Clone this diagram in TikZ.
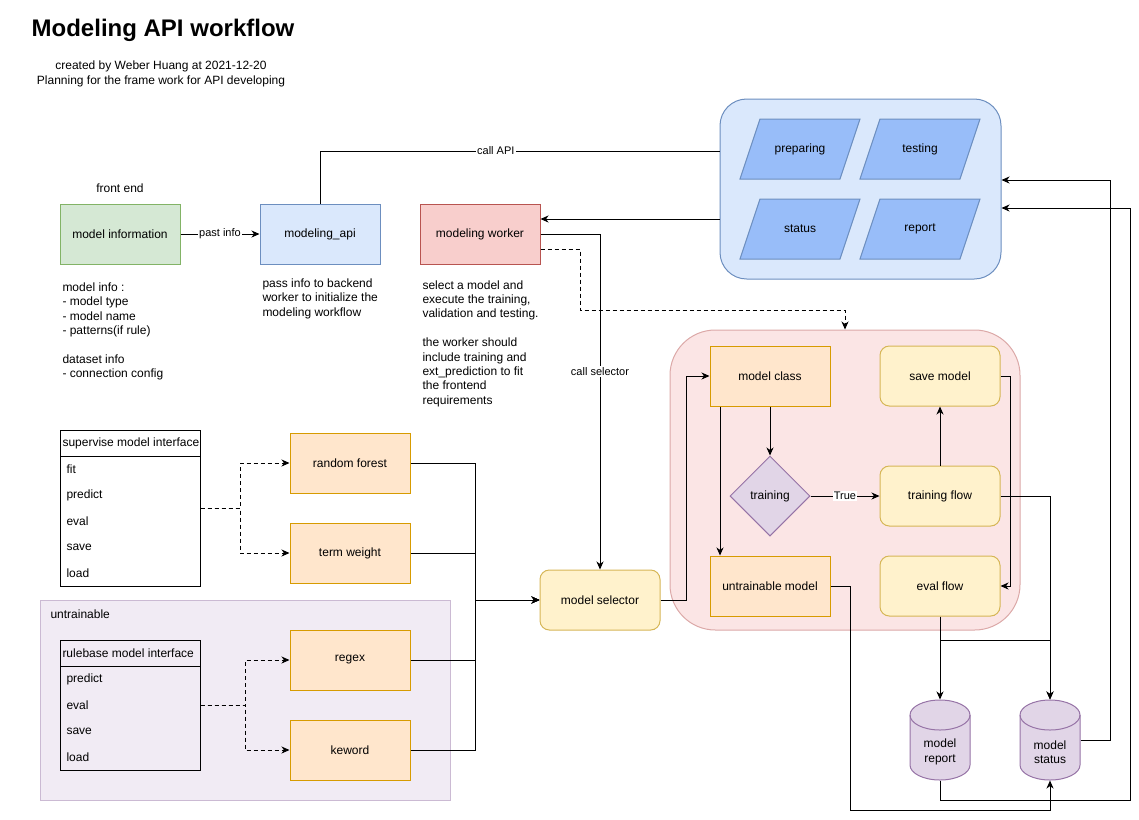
\documentclass[tikz,border=0pt]{standalone}
\usepackage{fontspec}
\setmainfont{Liberation Sans}
\usetikzlibrary{arrows.meta,shapes.geometric}
\definecolor{gfill}{HTML}{D5E8D4}\definecolor{gstroke}{HTML}{82B366}
\definecolor{bfill}{HTML}{DAE8FC}\definecolor{bstroke}{HTML}{6C8EBF}
\definecolor{rfill}{HTML}{F8CECC}\definecolor{rstroke}{HTML}{B85450}
\definecolor{ofill}{HTML}{FFE6CC}\definecolor{ostroke}{HTML}{D79B00}
\definecolor{yfill}{HTML}{FFF2CC}\definecolor{ystroke}{HTML}{D6B656}
\definecolor{pfill}{HTML}{E1D5E7}\definecolor{pstroke}{HTML}{9673A6}
\definecolor{parafill}{HTML}{98BDF9}
\definecolor{pinkfill}{HTML}{FBE5E5}\definecolor{pinkstroke}{HTML}{DCA9A8}
\definecolor{grpfill}{HTML}{F1EBF4}\definecolor{grpstroke}{HTML}{CBBAD3}
\begin{document}
\begin{tikzpicture}[x=0.75pt,y=-0.75pt,line width=0.75pt,
  every node/.style={font=\fontsize{9}{10.8}\selectfont},
  box/.style={draw, minimum width=90pt, minimum height=45pt, inner sep=0pt, align=center},
  greenbox/.style={box, fill=gfill, draw=gstroke},
  bluebox/.style={box, fill=bfill, draw=bstroke},
  redbox/.style={box, fill=rfill, draw=rstroke},
  orangebox/.style={box, fill=ofill, draw=ostroke},
  yellowbox/.style={box, fill=yfill, draw=ystroke, rounded corners=7pt},
  decision/.style={diamond, draw=pstroke, fill=pfill, minimum width=60pt, minimum height=60pt, inner sep=0pt},
  para/.style={draw=bstroke, fill=parafill},
  cylbox/.style={minimum width=45pt, minimum height=60pt, inner sep=0pt},
  cyl/.style={draw=pstroke, fill=pfill},
  tablebox/.style={draw, minimum width=105pt, inner sep=0pt},
  note/.style={align=left, anchor=west, inner sep=0pt},
  item/.style={anchor=west, inner sep=0pt},
  lbl/.style={fill=white, inner sep=1pt, font=\fontsize{8.25}{9.9}\selectfont},
  arr/.style={-{Stealth[length=6pt,width=5.25pt,inset=1.8pt]}},
  dsh/.style={dash pattern=on 3pt off 2.25pt}]
\useasboundingbox (0,0) rectangle (1139,819);

% title
\node[font=\fontsize{18}{21.6}\selectfont\bfseries] (title) at (163,30) {Modeling API workflow};
\node[align=center] (sub) at (161,74) {created by Weber Huang at 2021-12-20\\Planning for the frame work for API developing};

% top row
\node (fe) at (120,188) {front end};
\node[greenbox] (minfo) at (120,234) {model information};
\node[bluebox] (api) at (320,234) {modeling\_api};
\node[redbox] (worker) at (480,234) {modeling worker};

\node[note] (n1) at (62,331.5) {model info :\\- model type\\- model name\\- patterns(if rule)\\[10.8pt]dataset info\\- connection config};
\node[note] (n2) at (262,298.5) {pass info to backend\\worker to initialize the\\modeling workflow};
\node[note] (n3) at (422,343.5) {select a model and\\execute the training,\\validation and testing.\\[10.8pt]the worker should\\include training and\\ext\_prediction to fit\\the frontend\\requirements};

% blue panel
\node[draw=bstroke, fill=bfill, rounded corners=20pt, minimum width=210.75pt, minimum height=135pt, inner sep=0pt] (panel) at (860.5,189) {};
\path[para] (740,179) -- (760,119) -- (860,119) -- (840,179) -- cycle;
\node (prep) at (800,149) {preparing};
\path[para] (860,179) -- (880,119) -- (980,119) -- (960,179) -- cycle;
\node (test) at (920,149) {testing};
\path[para] (740,259) -- (760,199) -- (860,199) -- (840,259) -- cycle;
\node (stat) at (800,229) {status};
\path[para] (860,259) -- (880,199) -- (980,199) -- (960,259) -- cycle;
\node (rep) at (920,229) {report};

% pink panel
\node[draw=pinkstroke, fill=pinkfill, rounded corners=34pt, minimum width=262.5pt, minimum height=225pt, inner sep=0pt] (pink) at (845,480) {};
\node[orangebox] (mclass) at (770,376) {model class};
\node[yellowbox] (save) at (940,376) {save model};
\node[decision] (train) at (770,496) {training};
\node[yellowbox] (tflow) at (940,496) {training flow};
\node[orangebox] (untr) at (770,586) {untrainable model};
\node[yellowbox] (eval) at (940,586) {eval flow};

\node[yellowbox] (sel) at (600,600) {model selector};

% cylinders
\node[cylbox] (mrep) at (940,740) {};
\node[cylbox] (mstat) at (1050,740) {};
\path[cyl] (910,715) -- (910,765) arc[start angle=180, end angle=360, x radius=22.5pt, y radius=11.25pt] -- (970,715) arc[start angle=0, end angle=180, x radius=22.5pt, y radius=11.25pt] -- cycle;
\draw[pstroke] (910,715) arc[start angle=180, end angle=360, x radius=22.5pt, y radius=11.25pt];
\path[cyl] (1020,715) -- (1020,765) arc[start angle=180, end angle=360, x radius=22.5pt, y radius=11.25pt] -- (1080,715) arc[start angle=0, end angle=180, x radius=22.5pt, y radius=11.25pt] -- cycle;
\draw[pstroke] (1020,715) arc[start angle=180, end angle=360, x radius=22.5pt, y radius=11.25pt];
\node[align=center] (mreptxt) at (940,752) {model\\report};
\node[align=center] (mstattxt) at (1050,752) {model\\status};

% untrainable group
\node[draw=grpstroke, fill=grpfill, minimum width=307.5pt, minimum height=150pt, inner sep=0pt] (grp) at (245,700) {};
\node[item] (grplbl) at (50,614) {untrainable};

% supervise table
\node[tablebox, minimum height=117pt] (sup) at (130,508) {};
\draw (60,456) -- (200,456);
\node[item] (suph) at (62,443) {supervise model interface};
\node[item] (s1) at (66,469) {fit};
\node[item] (s2) at (66,495) {predict};
\node[item] (s3) at (66,521) {eval};
\node[item] (s4) at (66,547) {save};
\node[item] (s5) at (66,573) {load};

% rulebase table
\node[tablebox, minimum height=97.5pt] (rule) at (130,705) {};
\draw (60,666) -- (200,666);
\node[item] (ruleh) at (62,653) {rulebase model interface};
\node[item] (r1) at (66,679) {predict};
\node[item] (r2) at (66,705) {eval};
\node[item] (r3) at (66,731) {save};
\node[item] (r4) at (66,757) {load};

\node[orangebox] (rf) at (350,463) {random forest};
\node[orangebox] (tw) at (350,553) {term weight};
\node[orangebox] (rx) at (350,660) {regex};
\node[orangebox] (kw) at (350,750) {keword};

% connectors
\draw[arr] (minfo.east) -- node[lbl]{past info} (api.west);
\draw (api.north) -- (320,151) -- node[lbl, pos=0.44]{call API} ([yshift=28.5pt]panel.west);
\draw[arr] ([yshift=-22.5pt]panel.west) -- ([yshift=11.25pt]worker.east);
\draw[arr] (worker.east) -- (600,234) -- node[lbl, pos=0.41]{call selector} (sel.north);
\draw[arr, dsh] ([yshift=-11.25pt]worker.east) -- (580,249) -- (580,310) -| (pink.north);

\draw[arr] (sel.east) -- (686,600) |- (mclass.west);
\draw[arr] (mclass.south) -- (train.north);
\draw[arr] ([xshift=-37.5pt]mclass.south) -- ([xshift=-37.5pt]untr.north);
\draw[arr] (train.east) -- node[lbl]{True} (tflow.west);
\draw[arr] (tflow.north) -- (save.south);
\draw[arr] (save.east) -- (1010,376) |- (eval.east);
\draw[arr] (tflow.east) -- (1050,496) -- (mstat.north);
\draw[arr] (eval.south) -- (mrep.north);
\draw[arr] (eval.south) -- (940,640) -| (mstat.north);
\draw[arr] (untr.east) -- (850,586) |- (1050,810) -- (mstat.south);
\draw[arr] (mrep.south) |- (1130,800) -- (1130,208) -- ([yshift=-14.25pt]panel.east);
\draw[arr] (mstat.east) -- (1110,740) -- (1110,180) -- ([yshift=6.75pt]panel.east);

\draw[arr, dsh] (sup.east) -- (240,508) |- (rf.west);
\draw[arr, dsh] (sup.east) -- (240,508) |- (tw.west);
\draw[arr, dsh] (rule.east) -- (245,705) |- (rx.west);
\draw[arr, dsh] (rule.east) -- (245,705) |- (kw.west);

\draw[arr] (rf.east) -| (475,600) -- (sel.west);
\draw[arr] (tw.east) -| (475,600) -- (sel.west);
\draw[arr] (rx.east) -| (475,600) -- (sel.west);
\draw[arr] (kw.east) -| (475,600) -- (sel.west);
\end{tikzpicture}
\end{document}
